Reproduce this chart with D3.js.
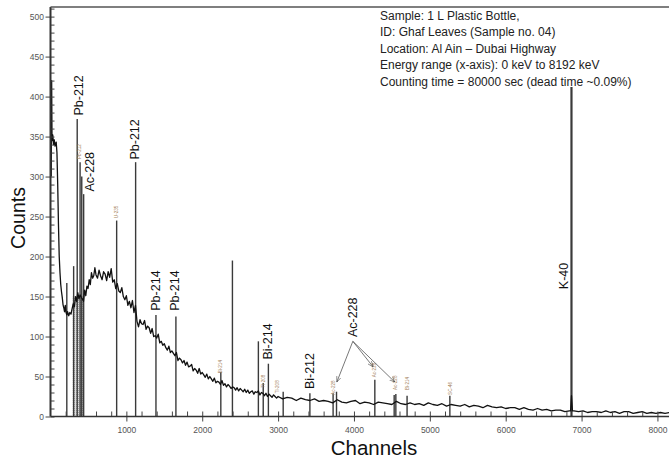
<!DOCTYPE html>
<html>
<head>
<meta charset="utf-8">
<script src="https://cdn.jsdelivr.net/npm/d3@7"></script>
<style>
  body { margin: 0; background: #fff; }
  svg { display: block; }
</style>
</head>
<body>
<svg id="chart" width="669" height="461"></svg>
<script>
// 连续谱 [channel, counts]
const spectrum = [
  [10, 300], [15, 420], [20, 345], [30, 352], [40, 340], [50, 346], [60, 338], [75, 343], [85, 330],
  [95, 290], [105, 240], [115, 200], [125, 180], [135, 165], [145, 156], [155, 149], [165, 140],
  [175, 136], [185, 131], [195, 139], [205, 130], [215, 127], [225, 131], [240, 126], [255, 130],
  [270, 128], [285, 135], [300, 141], [315, 137], [330, 150], [345, 144], [360, 155], [375, 147],
  [390, 152], [405, 149], [420, 147], [435, 144], [450, 158], [465, 151], [480, 163], [495, 160],
  [510, 171], [525, 165], [540, 180], [555, 173], [570, 176], [585, 186], [600, 177], [620, 173],
  [640, 183], [660, 176], [680, 171], [700, 181], [720, 178], [740, 170], [760, 181], [780, 174],
  [800, 185], [820, 168], [840, 171], [860, 160], [880, 166], [900, 157], [920, 155], [940, 161],
  [960, 150], [980, 146], [1000, 151], [1020, 139], [1040, 144], [1060, 136], [1080, 145], [1100, 130],
  [1120, 139], [1140, 119], [1160, 112], [1180, 121], [1200, 116], [1220, 115], [1240, 120], [1260, 109],
  [1280, 113], [1300, 111], [1320, 104], [1340, 110], [1360, 100], [1380, 101], [1400, 98], [1420, 103],
  [1440, 92], [1460, 94], [1480, 89], [1500, 91], [1520, 86], [1540, 83], [1560, 88], [1580, 80],
  [1600, 82], [1620, 79], [1640, 76], [1660, 80], [1680, 70], [1700, 73], [1720, 71], [1740, 67],
  [1760, 70], [1780, 64], [1800, 68], [1820, 62], [1840, 63], [1860, 65], [1880, 57], [1900, 60],
  [1920, 58], [1940, 54], [1960, 60], [1980, 53], [2000, 55], [2020, 52], [2040, 49], [2060, 53],
  [2080, 47], [2100, 50], [2120, 47], [2140, 44], [2160, 48], [2180, 42], [2200, 44], [2220, 43],
  [2240, 40], [2260, 45], [2280, 39], [2300, 41], [2320, 37], [2340, 40], [2360, 38], [2380, 35],
  [2400, 37], [2420, 36], [2440, 33], [2460, 36], [2480, 32], [2500, 35], [2520, 33], [2540, 31],
  [2560, 34], [2580, 30], [2600, 33], [2620, 29], [2640, 31], [2660, 32], [2680, 28], [2700, 31],
  [2720, 30], [2740, 32], [2760, 27], [2780, 30], [2800, 29], [2820, 26], [2840, 29], [2860, 25],
  [2880, 28], [2900, 26], [2920, 24], [2940, 27], [2960, 25], [2980, 23], [3000, 25], [3060, 22],
  [3120, 24], [3180, 23], [3240, 20], [3300, 23], [3360, 21], [3420, 20], [3480, 22], [3540, 19],
  [3600, 20], [3660, 19], [3720, 17], [3780, 21], [3840, 18], [3900, 17], [3960, 19], [4020, 20],
  [4080, 16], [4140, 18], [4200, 17], [4260, 15], [4320, 18], [4380, 17], [4440, 16], [4500, 15],
  [4560, 19], [4620, 16], [4680, 15], [4740, 17], [4800, 15], [4860, 16], [4920, 14], [4980, 17],
  [5040, 15], [5100, 14], [5160, 16], [5220, 13], [5280, 15], [5340, 14], [5400, 13], [5460, 15],
  [5520, 12], [5580, 14], [5640, 13], [5700, 11], [5760, 14], [5820, 12], [5880, 11], [5940, 12],
  [6000, 10], [6060, 11], [6120, 11], [6180, 9], [6240, 11], [6300, 9], [6360, 8], [6420, 10],
  [6480, 8], [6540, 9], [6600, 7], [6660, 8], [6720, 8], [6780, 6], [6840, 7], [6855, 7],
  [6867, 26], [6880, 7], [6900, 7], [6960, 6], [7020, 7], [7080, 5], [7140, 6], [7200, 6],
  [7260, 5], [7320, 7], [7380, 5], [7440, 6], [7500, 4], [7560, 6], [7620, 6], [7680, 4],
  [7740, 5], [7800, 6], [7860, 4], [7920, 5], [7980, 4], [8040, 5], [8100, 4], [8160, 5], [8192, 4]
]

// 峰 [channel, counts]
const peaks = [
  [215, 167], [305, 188], [352, 372], [390, 318], [412, 300], [437, 278], [872, 245],
  [1122, 318], [1390, 127], [1653, 125], [2245, 56], [2398, 195], [2740, 94], [2804, 42],
  [2872, 66], [3067, 31], [3419, 29], [3725, 29], [3770, 31], [4275, 46], [4530, 27],
  [4552, 28], [4700, 26], [5264, 26], [6867, 412]
]

// 峰标签 [text, channel, counts]
const peakLabels = [
  ['Pb-212', 375, 375], ['Ac-228', 520, 280], ['Pb-212', 1113, 320], ['Pb-214', 1378, 131],
  ['Pb-214', 1640, 131], ['Bi-214', 2866, 70], ['Bi-212', 3419, 33], ['Ac-228', 3985, 98],
  ['K-40', 6756, 158]
]

// 小标签 [text, channel, counts]
const smallLabels = [
  ['Pb-212', 385, 322], ['U-235', 872, 248], ['Bi-214', 2245, 54], ['Tl-208', 2805, 36],
  ['Tl-208', 2988, 29], ['Ac-228', 3723, 27], ['Ac-228', 4275, 49], ['Ac-228', 4548, 33],
  ['Bi-214', 4700, 33], ['SC-46', 5264, 27]
]

// Ac-228 箭头 [channel, counts]
const arrowFrom = [3985, 94]
const arrowTargets = [[3774, 43], [4253, 62], [4539, 43]]

// 阴影区间 [channel start, channel end, counts top]
const shadedRegion = [292, 440, 150]

const infoLines = [
  'Sample: 1 L Plastic Bottle,',
  'ID: Ghaf Leaves (Sample no. 04)',
  'Location: Al Ain \u2013 Dubai Highway',
  'Energy range (x-axis):  0 keV to 8192 keV',
  'Counting time = 80000 sec (dead time ~0.09%)'
]

const xMajor = d3.range(1000, 8001, 1000)
const xMinor = d3.range(200, 8192, 200)
const yMajor = d3.range(0, 501, 50)
const yMinor = d3.range(0, 511, 10)

const font = 'Liberation Sans, Arial, sans-serif'
const svg = d3.select('#chart')

const x = d3.scaleLinear().domain([0, 8192]).range([50.5, 672])
const y = d3.scaleLinear().domain([0, 512]).range([416.5, 7])

// 阴影
const defs = svg.append('defs')
defs.append('pattern')
  .attr('id', 'dots').attr('width', 2).attr('height', 2).attr('patternUnits', 'userSpaceOnUse')
  .call((p) => {
    p.append('rect').attr('width', 2).attr('height', 2).attr('fill', '#dedede')
    p.append('rect').attr('width', 1).attr('height', 1).attr('fill', '#a8a8a8')
  })

svg.append('rect')
  .attr('x', x(shadedRegion[0]))
  .attr('width', x(shadedRegion[1]) - x(shadedRegion[0]))
  .attr('y', y(shadedRegion[2]))
  .attr('height', y(0) - y(shadedRegion[2]))
  .attr('fill', 'url(#dots)')

// 峰线
svg.append('g').selectAll('line').data(peaks).join('line')
  .attr('x1', (d) => x(d[0])).attr('x2', (d) => x(d[0]))
  .attr('y1', y(0)).attr('y2', (d) => y(d[1]))
  .attr('stroke', '#3a3a3a')
  .attr('stroke-width', (d) => (d[1] > 400 ? 2.2 : 1.4))

// 谱线
svg.append('path')
  .datum(spectrum)
  .attr('d', d3.line().x((d) => x(d[0])).y((d) => y(d[1])))
  .attr('fill', 'none')
  .attr('stroke', '#111')
  .attr('stroke-width', 1.3)
  .attr('stroke-linejoin', 'round')

// 坐标轴
const axisStyle = (g) => {
  g.select('.domain').remove()
  g.selectAll('text').attr('font-family', font).attr('font-size', '8.5px').attr('fill', '#555')
  g.selectAll('line').attr('stroke', '#444')
}

svg.append('g').attr('transform', `translate(0,${y(0)})`)
  .call(d3.axisBottom(x).tickValues(xMinor).tickSize(-5).tickFormat(''))
  .call(axisStyle)
svg.append('g').attr('transform', `translate(0,${y(0)})`)
  .call(d3.axisBottom(x).tickValues(xMajor).tickSize(5).tickPadding(5).tickFormat(d3.format('d')))
  .call(axisStyle)
svg.append('g').attr('transform', `translate(${x(0)},0)`)
  .call(d3.axisLeft(y).tickValues(yMinor).tickSize(-4).tickFormat(''))
  .call(axisStyle)
svg.append('g').attr('transform', `translate(${x(0)},0)`)
  .call(d3.axisLeft(y).tickValues(yMajor).tickSize(5).tickPadding(1.5).tickFormat(d3.format('d')))
  .call(axisStyle)

// 边框
svg.append('line').attr('x1', x(0)).attr('x2', 669).attr('y1', y(0)).attr('y2', y(0))
  .attr('stroke', '#333').attr('stroke-width', 1.6)
svg.append('line').attr('x1', x(0)).attr('x2', x(0)).attr('y1', y(512)).attr('y2', y(0))
  .attr('stroke', '#333').attr('stroke-width', 2)
svg.append('line').attr('x1', x(0)).attr('x2', 669).attr('y1', y(512)).attr('y2', y(512))
  .attr('stroke', '#555').attr('stroke-width', 1.5)

// 轴标题
svg.append('text').text('Channels')
  .attr('x', 374).attr('y', 455)
  .attr('text-anchor', 'middle').attr('font-family', font).attr('font-size', '20.5px').attr('fill', '#111')
svg.append('text').text('Counts')
  .attr('transform', 'translate(25,218) rotate(-90)')
  .attr('text-anchor', 'middle').attr('font-family', font).attr('font-size', '19.5px').attr('fill', '#111')

// 峰标签
svg.append('g').selectAll('text').data(peakLabels).join('text')
  .text((d) => d[0])
  .attr('transform', (d) => `translate(${x(d[1])},${y(d[2]) - 1}) rotate(-90)`)
  .attr('dy', '0.36em')
  .attr('font-family', font).attr('font-size', '12.5px').attr('fill', '#111')

svg.append('g').selectAll('text').data(smallLabels).join('text')
  .text((d) => d[0])
  .attr('transform', (d) => `translate(${x(d[1])},${y(d[2])}) rotate(-90)`)
  .attr('dy', '0.36em')
  .attr('font-family', font).attr('font-size', '4.6px').attr('fill', '#a4825c')

// 箭头
defs.append('marker')
  .attr('id', 'arrow').attr('viewBox', '0 0 10 10').attr('refX', 10).attr('refY', 5)
  .attr('markerWidth', 7).attr('markerHeight', 7).attr('orient', 'auto')
  .append('path').attr('d', 'M0,1 L10,5 L0,9').attr('fill', 'none').attr('stroke', '#444').attr('stroke-width', 1)

svg.append('g').selectAll('line').data(arrowTargets).join('line')
  .attr('x1', x(arrowFrom[0])).attr('y1', y(arrowFrom[1]))
  .attr('x2', (d) => x(d[0])).attr('y2', (d) => y(d[1]))
  .attr('stroke', '#555').attr('stroke-width', 0.8)
  .attr('marker-end', 'url(#arrow)')

// 样品信息
svg.append('g').selectAll('text').data(infoLines).join('text')
  .text((d) => d)
  .attr('x', 380).attr('y', (d, i) => 19.5 + i * 16.5)
  .attr('font-family', font).attr('font-size', '12px').attr('fill', '#222')
</script>
</body>
</html>
